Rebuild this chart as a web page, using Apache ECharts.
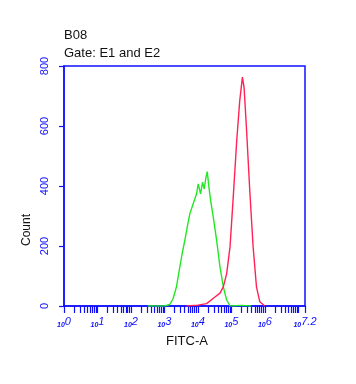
<!DOCTYPE html>
<html><head><meta charset="utf-8">
<script src="https://cdn.jsdelivr.net/npm/echarts@6/dist/echarts.min.js"></script>
<style>html,body{margin:0;padding:0;background:#fff}#c{width:356px;height:384px}</style>
</head><body><div id="c"></div>
<script>
// x values are log10(FITC-A)
const greenX = [2.5, 3.0, 3.16, 3.26, 3.36, 3.46, 3.53, 3.61, 3.68, 3.76, 3.86, 3.96, 4.01, 4.08, 4.14, 4.19, 4.24, 4.28, 4.33, 4.38, 4.46, 4.56, 4.66, 4.76, 4.86, 4.96, 5.3, 5.6];
const greenY = [0, 0, 5, 25, 64, 130, 175, 219, 262, 308, 341, 374, 407, 374, 413, 390, 429, 448, 396, 352, 296, 219, 130, 64, 20, 0, 2, 0];
const redX = [3.66, 4.0, 4.26, 4.51, 4.66, 4.76, 4.86, 4.96, 5.05, 5.16, 5.25, 5.33, 5.38, 5.45, 5.55, 5.65, 5.75, 5.85, 6.0];
const redY = [0, 3, 8, 30, 43, 64, 108, 197, 352, 551, 684, 763, 728, 595, 385, 197, 64, 14, 0];
const yTicks = [0, 200, 400, 600, 800];
const xLabelExps = [0, 1, 2, 3, 4, 5, 6, 7.2];

const blue = '#1010ff';
const minorTicks = [];
for (let d = 0; d <= 7; d++) {
  for (let k = 1; k <= 9; k++) {
    const v = d + Math.log10(k);
    if (v <= 7.2 + 1e-9) minorTicks.push(+v.toFixed(4));
  }
}
minorTicks.push(7.2);

const chart = echarts.init(document.getElementById('c'));
chart.setOption({
  animation: false,
  grid: { left: 64, right: 51, top: 66, bottom: 78, show: true, borderColor: blue, borderWidth: 1.5, backgroundColor: 'transparent' },
  xAxis: {
    type: 'value', min: 0, max: 7.2,
    axisLine: { show: true, onZero: false, lineStyle: { color: blue, width: 1.5 } },
    axisTick: { show: true, customValues: minorTicks, length: 7, lineStyle: { color: blue, width: 1.2 } },
    splitLine: { show: false },
    axisLabel: {
      customValues: xLabelExps, margin: 10, color: blue, showMaxLabel: true, showMinLabel: true, hideOverlap: false,
      formatter: v => '{b|10}{e|' + (Math.abs(v - 7.2) < 1e-6 ? '7.2' : Math.round(v)) + '}',
      rich: {
        b: { fontSize: 7, color: blue, fontFamily: 'Liberation Sans', fontStyle: 'italic', fontWeight: 'bold', padding: [5, 0, 0, 0] },
        e: { fontSize: 11, color: blue, fontFamily: 'Liberation Sans', fontStyle: 'italic', padding: [0, 0, 2, 0] }
      }
    }
  },
  yAxis: {
    type: 'value', min: 0, max: 800, interval: 200,
    axisLine: { show: true, lineStyle: { color: blue, width: 1.5 } },
    axisTick: { show: true, length: 5, lineStyle: { color: blue, width: 1.2 } },
    splitLine: { show: false },
    axisLabel: { rotate: 90, color: blue, fontSize: 11, fontFamily: 'Liberation Sans', margin: 14 }
  },
  series: [
    { type: 'line', data: greenX.map((x, i) => [x, greenY[i]]), showSymbol: false, lineStyle: { color: '#22e822', width: 1.4 }, z: 3 },
    { type: 'line', data: redX.map((x, i) => [x, redY[i]]), showSymbol: false, lineStyle: { color: '#ff2255', width: 1.4 }, z: 4 }
  ],
  graphic: [
    { type: 'text', left: 64, top: 29, style: { text: 'B08', font: '13px "Liberation Sans", Arial', fill: '#111' } },
    { type: 'text', left: 64, top: 47, style: { text: 'Gate: E1 and E2', font: '13px "Liberation Sans", Arial', fill: '#111' } },
    { type: 'text', x: 27, y: 230, rotation: Math.PI / 2, style: { text: 'Count', font: '12px "Liberation Sans", Arial', fill: '#111', align: 'center', verticalAlign: 'middle' } },
    { type: 'text', x: 187, y: 341, style: { text: 'FITC-A', font: '13px "Liberation Sans", Arial', fill: '#111', align: 'center', verticalAlign: 'middle' } }
  ]
});
</script></body></html>
